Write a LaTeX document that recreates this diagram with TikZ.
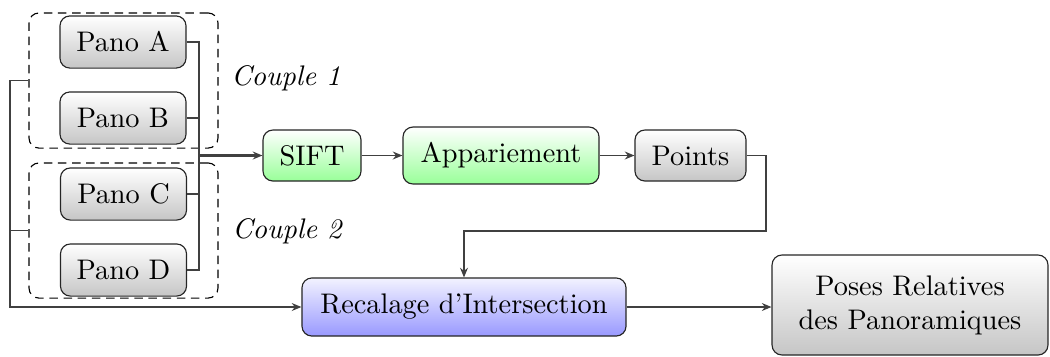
\documentclass[tikz,border=0pt]{standalone}
\usetikzlibrary{arrows.meta,shapes.misc}
\begin{document}
\begin{tikzpicture}[x=0.353pt,y=-0.353pt,
  box/.style={draw=black!85,rounded corners=3.5pt,inner sep=1pt,align=center,font=\normalsize},
  grayb/.style={box,top color=white,bottom color=gray!45},
  greenb/.style={box,top color=white,bottom color=green!40},
  blueb/.style={box,top color=blue!5,bottom color=blue!40},
  pano/.style={grayb,minimum width=44.5pt,minimum height=18.4pt},
  grp/.style={draw=black,dash pattern=on 3pt off 2pt,rounded corners=3.5pt,minimum width=66.7pt,minimum height=47.7pt,inner sep=0pt},
  conn/.style={draw=black!75},
  arr/.style={conn,-{Stealth[length=3.4pt,width=2.8pt]}},
  lbl/.style={font=\itshape}]
\useasboundingbox (0,0) rectangle (1050,356);
% groups
\node[grp] (g1) at (123.5,80.5) {};
\node[grp] (g2) at (123.5,230.5) {};
% panoramas
\node[pano] (A) at (123,42) {Pano A};
\node[pano] (B) at (123,118) {Pano B};
\node[pano] (C) at (123.5,194) {Pano C};
\node[pano] (D) at (123.5,270) {Pano D};
\node[lbl] (c1) at (286,78) {Couple 1};
\node[lbl] (c2) at (287,231) {Couple 2};
% pipeline
\node[greenb,minimum width=34.6pt,minimum height=18pt] (S) at (312,155.5) {SIFT};
\node[greenb,minimum width=69.2pt,minimum height=20.1pt] (M) at (501,155.5) {Appariement};
\node[grayb,minimum width=39.2pt,minimum height=18pt] (P) at (690.5,155.5) {Points};
\node[blueb,minimum width=114.4pt,minimum height=20.5pt] (R) at (464,307) {Recalage d'Intersection};
\node[grayb,minimum width=97.4pt,minimum height=35.3pt] (O) at (910,305) {Poses Relatives\\des Panoramiques};
% connectors
\coordinate (j) at (199,155.5);
\coordinate (ja) at (199,42);
\coordinate (jd) at (199,270);
\draw[conn] (A.east) -- (ja) -- (jd) -- (D.east);
\draw[conn] (B.east) -| (j);
\draw[conn] (C.east) -| (j);
\draw[arr,line width=0.8pt] (j) -- (S.west);
\draw[arr] (S) -- (M);
\draw[arr] (M) -- (P);
\coordinate (p2) at (766,231);
\draw[arr] (P.east) -| (p2) -| (R.north);
\coordinate (l1) at (10,80.5);
\coordinate (l2) at (10,230.5);
\draw[arr] (g1.west) -- (l1) |- (R.west);
\draw[conn] (g2.west) -- (l2);
\draw[arr] (R.east) -- (R.east -| O.west);
\end{tikzpicture}
\end{document}
